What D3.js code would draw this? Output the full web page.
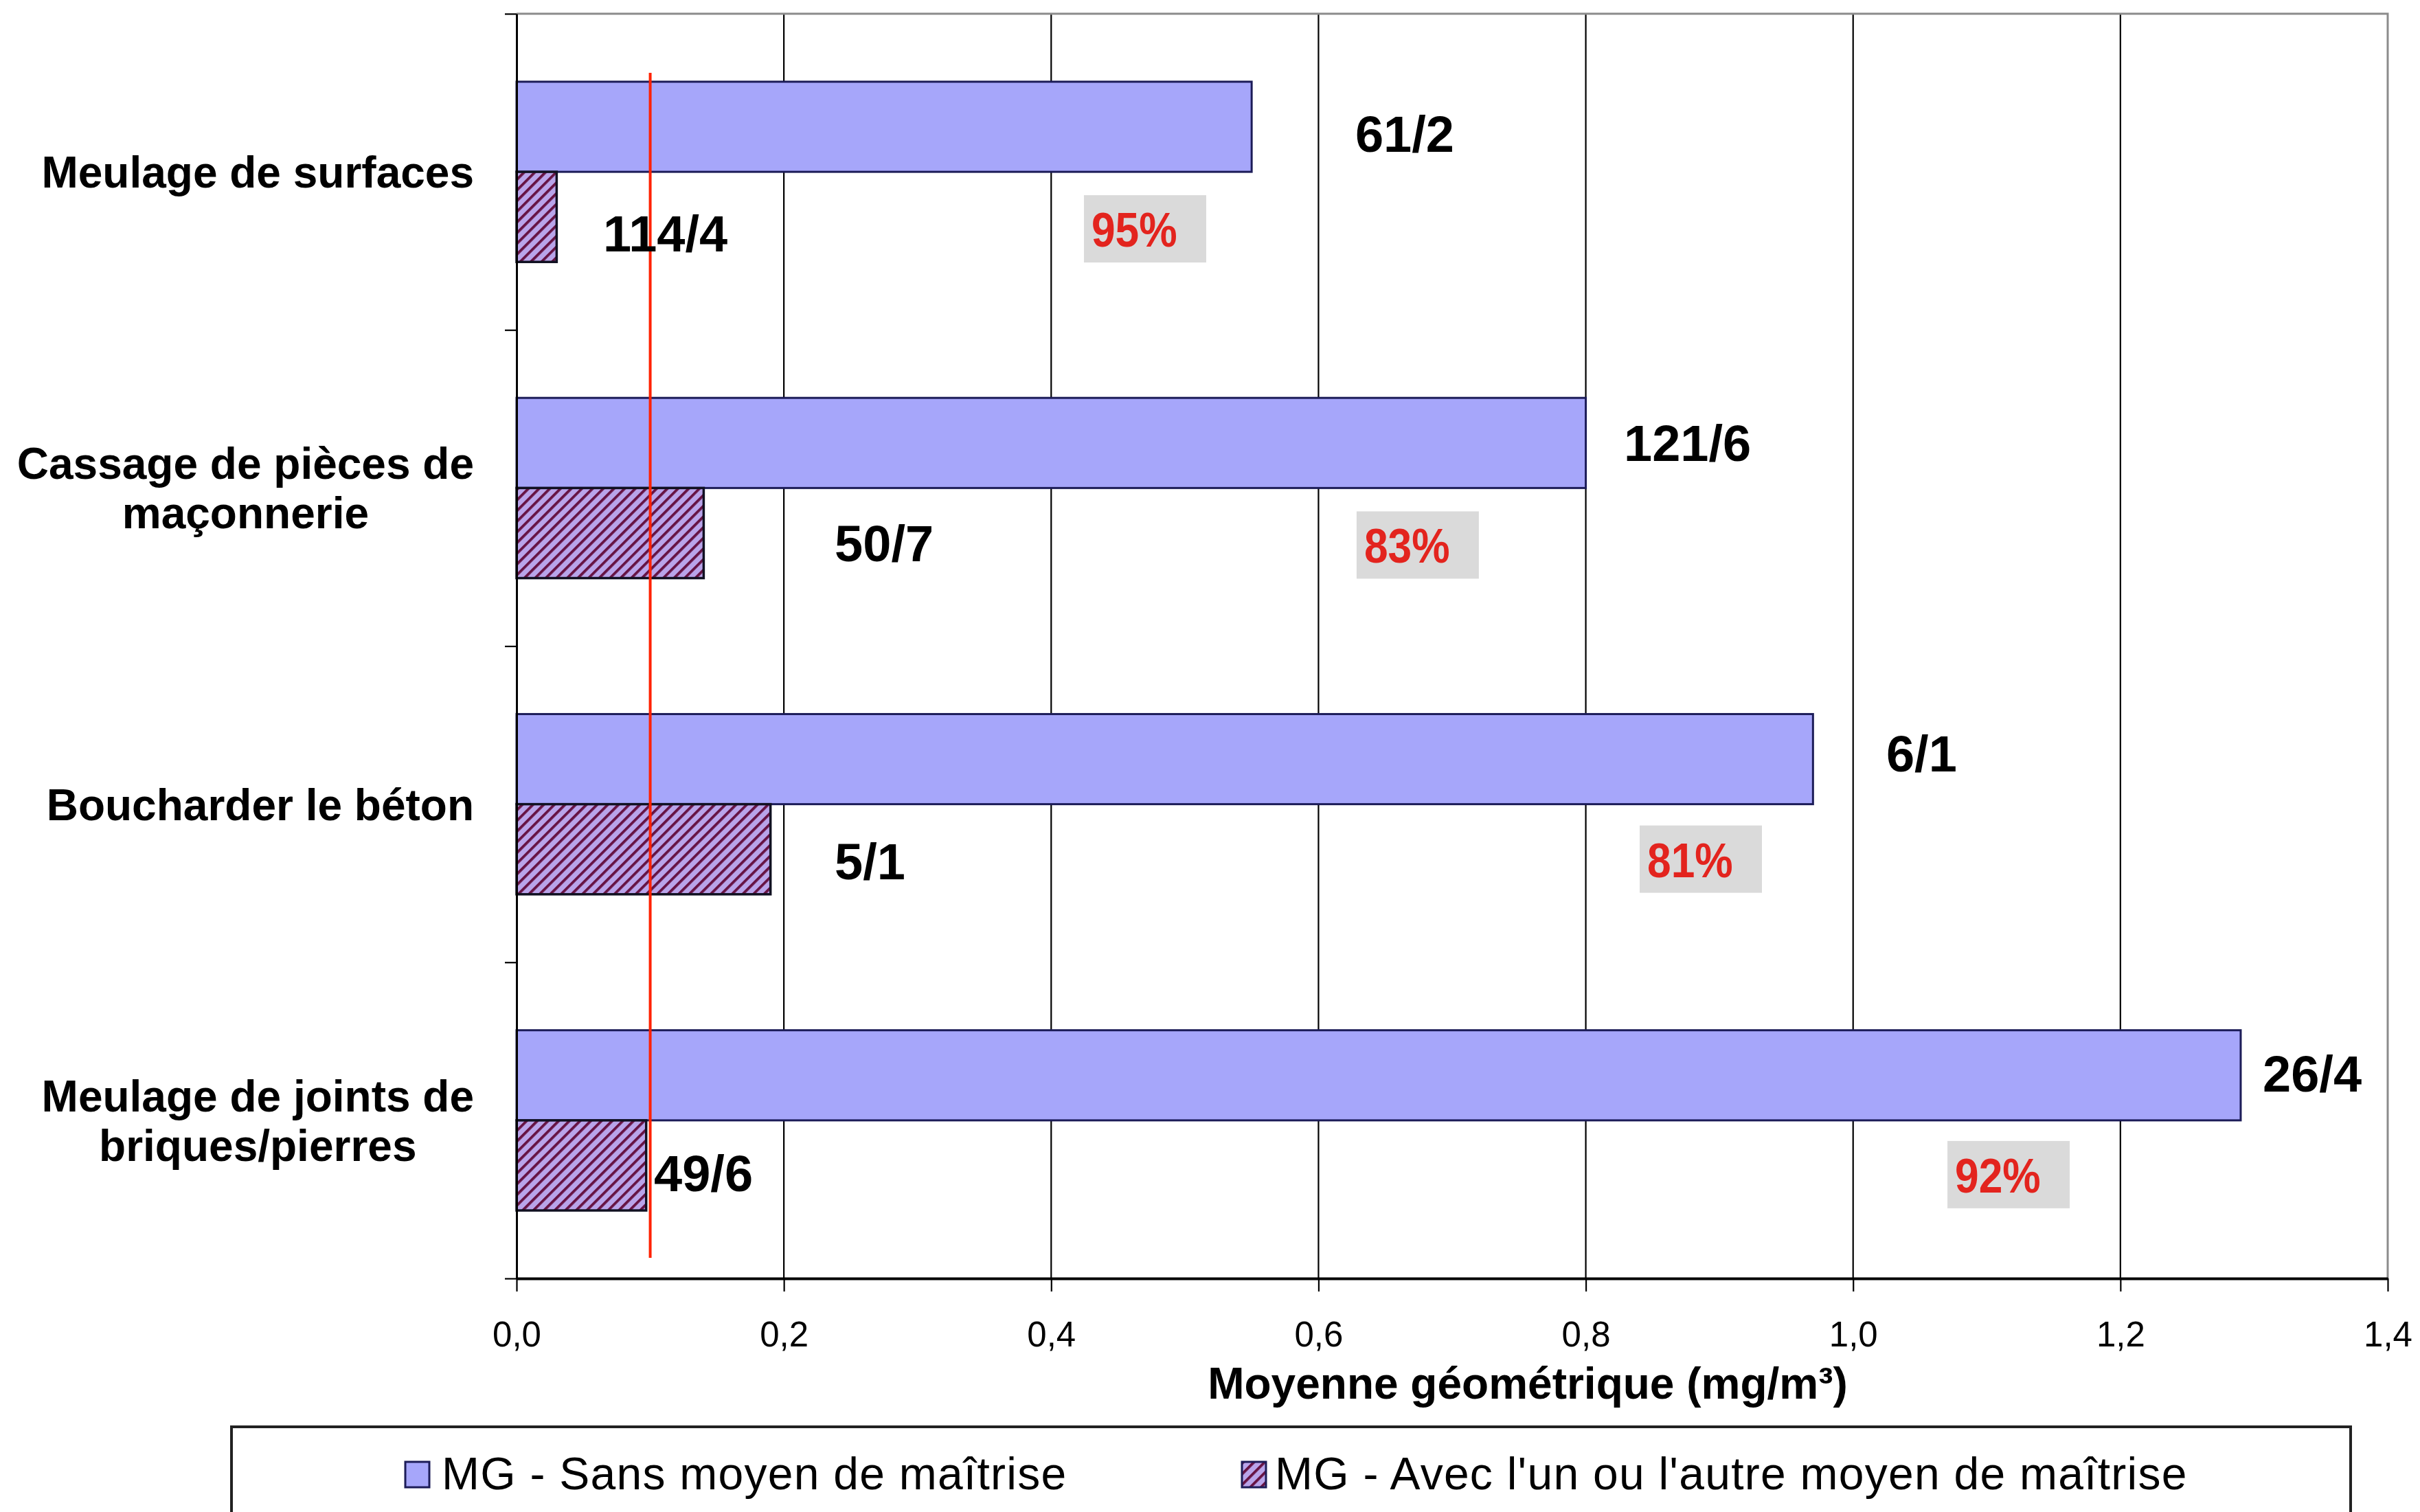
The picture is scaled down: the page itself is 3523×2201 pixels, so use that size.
<!DOCTYPE html>
<html>
<head>
<meta charset="utf-8">
<script src="https://cdn.jsdelivr.net/npm/d3@7"></script>
<style>
  html, body { margin: 0; padding: 0; background: #ffffff; }
  svg { display: block; }
  text { font-family: "Liberation Sans", Arial, Helvetica, sans-serif; }
</style>
</head>
<body>
<svg id="chart"></svg>
<script>
// ---- Data ----
const categories = [
  "Meulage de surfaces",
  "Cassage de pièces de\nmaçonnerie",
  "Boucharder le béton",
  "Meulage de joints de\nbriques/pierres"
];
const seriesNames = [
  "MG - Sans moyen de maîtrise",
  "MG - Avec l'un ou l'autre moyen de maîtrise"
];
// Geometric mean (mg/m³) without control measure
const sansValues = [0.55, 0.80, 0.97, 1.29];
// Geometric mean (mg/m³) with one control measure or the other
const avecValues = [0.03, 0.14, 0.19, 0.097];
// Sample counts shown next to each bar
const sansCounts = ["61/2", "121/6", "6/1", "26/4"];
const avecCounts = ["114/4", "50/7", "5/1", "49/6"];
// Reduction obtained with a control measure
const reductionLabels = ["95%", "83%", "81%", "92%"];
// Exposure limit value drawn as a vertical red line
const limitValue = 0.1;
const xTicks = [0, 0.2, 0.4, 0.6, 0.8, 1.0, 1.2, 1.4];
const xTitle = "Moyenne géométrique (mg/m³)";

// ---- Label placement (axis units for x, pixel offsets for y) ----
const sansCountPlace = [[0.6275, 10], [0.8285, 0], [1.0248, -8], [1.3065, -2]];
const avecCountPlace = [[0.0648, 24], [0.238, 15], [0.238, 18], [0.1028, 12]];
const reductionPlace = [[0.4245, 34], [0.6285, 34], [0.8403, 31], [1.0706, 30]];

// ---- Layout ----
const W = 3523, H = 2201;
const plot = { left: 752, right: 3476, top: 20, bottom: 1861 };

const svg = d3.select("#chart").attr("width", W).attr("height", H);
svg.append("rect").attr("width", W).attr("height", H).attr("fill", "#ffffff");

const defs = svg.append("defs");
const hatch = defs.append("pattern")
  .attr("id", "hatch")
  .attr("patternUnits", "userSpaceOnUse")
  .attr("width", 11).attr("height", 11)
  .attr("patternTransform", "rotate(45)");
hatch.append("rect").attr("width", 11).attr("height", 11).attr("fill", "#b9a4ea");
hatch.append("rect").attr("x", 0).attr("width", 3.8).attr("height", 11).attr("fill", "#661243");

const x = d3.scaleLinear().domain([0, 1.4]).range([plot.left, plot.right]);
const y = d3.scaleBand().domain(categories)
  .range([plot.top, plot.bottom])
  .paddingInner(0.43).paddingOuter(0.215);
const ySub = d3.scaleBand().domain(["sans", "avec"]).range([0, y.bandwidth()]);

// Vertical gridlines
svg.append("g").selectAll("line")
  .data(xTicks.filter(t => t > 0 && t < 1.4))
  .join("line")
  .attr("x1", d => x(d)).attr("x2", d => x(d))
  .attr("y1", plot.top).attr("y2", plot.bottom)
  .attr("stroke", "#000").attr("stroke-width", 2.2);

// Plot area frame (top and right)
svg.append("path")
  .attr("d", `M${plot.left},${plot.top}H${plot.right}V${plot.bottom}`)
  .attr("fill", "none").attr("stroke", "#8c8c8c").attr("stroke-width", 3);

// Bars without control measure
svg.append("g").selectAll("rect")
  .data(categories)
  .join("rect")
  .attr("x", x(0))
  .attr("y", d => y(d) + ySub("sans"))
  .attr("width", (d, i) => x(sansValues[i]) - x(0))
  .attr("height", ySub.bandwidth())
  .attr("fill", "#a6a6fa")
  .attr("stroke", "#1c1c58").attr("stroke-width", 3);

// Bars with a control measure (hatched)
svg.append("g").selectAll("rect")
  .data(categories)
  .join("rect")
  .attr("x", x(0))
  .attr("y", d => y(d) + ySub("avec"))
  .attr("width", (d, i) => x(avecValues[i]) - x(0))
  .attr("height", ySub.bandwidth())
  .attr("fill", "url(#hatch)")
  .attr("stroke", "#111122").attr("stroke-width", 3.5);

// Limit line
svg.append("line")
  .attr("x1", x(limitValue)).attr("x2", x(limitValue))
  .attr("y1", plot.top + 86).attr("y2", plot.bottom - 30)
  .attr("stroke", "#ff2200").attr("stroke-width", 4);

// X axis
const xAxis = svg.append("g")
  .attr("transform", `translate(0,${plot.bottom})`)
  .call(d3.axisBottom(x)
    .tickValues(xTicks)
    .tickSize(19).tickSizeOuter(0).tickPadding(44)
    .tickFormat(d => d3.format(".1f")(d).replace(".", ",")));
xAxis.select(".domain").attr("stroke", "#000").attr("stroke-width", 4);
xAxis.selectAll(".tick line").attr("stroke", "#000").attr("stroke-width", 2.2);
xAxis.selectAll(".tick text").attr("font-size", 51).attr("fill", "#000");

// Y axis: ticks at category boundaries
const yEdge = d3.scaleLinear().domain([0, categories.length]).range([plot.top, plot.bottom]);
const yAxis = svg.append("g")
  .attr("transform", `translate(${plot.left},0)`)
  .call(d3.axisLeft(yEdge)
    .tickValues(d3.range(categories.length + 1))
    .tickSize(17).tickSizeOuter(0).tickFormat(""));
yAxis.select(".domain").attr("stroke", "#000").attr("stroke-width", 3);
yAxis.selectAll(".tick line").attr("stroke", "#000").attr("stroke-width", 2.2);

// Category labels: block right-aligned, lines centred inside the block
const labelRight = 690, lineGap = 72;
categories.forEach(cat => {
  const lines = cat.split("\n");
  const cy = y(cat) + y.bandwidth() / 2;
  const g = svg.append("g");
  const texts = lines.map((ln, k) => g.append("text")
    .attr("font-size", 64).attr("font-weight", "bold").attr("fill", "#000")
    .attr("text-anchor", "middle")
    .attr("y", cy + 23 + (k - (lines.length - 1) / 2) * lineGap)
    .text(ln));
  const widest = d3.max(texts, t => t.node().getComputedTextLength());
  texts.forEach(t => t.attr("x", labelRight - widest / 2));
});

// Sample counts
const countFont = 74;
categories.forEach((cat, i) => {
  const cS = y(cat) + ySub("sans") + ySub.bandwidth() / 2;
  const cA = y(cat) + ySub("avec") + ySub.bandwidth() / 2;
  svg.append("text")
    .attr("x", x(sansCountPlace[i][0])).attr("y", cS + sansCountPlace[i][1] + 26)
    .attr("font-size", countFont).attr("font-weight", "bold").attr("fill", "#000")
    .text(sansCounts[i]);
  svg.append("text")
    .attr("x", x(avecCountPlace[i][0])).attr("y", cA + avecCountPlace[i][1] + 26)
    .attr("font-size", countFont).attr("font-weight", "bold").attr("fill", "#000")
    .text(avecCounts[i]);
});

// Reduction percentages in grey boxes
categories.forEach((cat, i) => {
  const cy = y(cat) + y.bandwidth() / 2;
  const bx = x(reductionPlace[i][0]);
  const by = cy + reductionPlace[i][1];
  svg.append("rect")
    .attr("x", bx).attr("y", by).attr("width", 178).attr("height", 98)
    .attr("fill", "#dadada");
  svg.append("g")
    .attr("transform", `translate(${bx + 11},${by + 75}) scale(0.89,1)`)
    .append("text")
    .attr("font-size", 70).attr("font-weight", "bold").attr("fill", "#e3241e")
    .text(reductionLabels[i]);
});

// Axis title
svg.append("text")
  .attr("x", 2224).attr("y", 2036)
  .attr("text-anchor", "middle")
  .attr("font-size", 64).attr("font-weight", "bold").attr("fill", "#000")
  .text(xTitle);

// Legend
svg.append("rect")
  .attr("x", 337).attr("y", 2077).attr("width", 3085).attr("height", 200)
  .attr("fill", "#fff").attr("stroke", "#222").attr("stroke-width", 4);
const legendItems = [
  { name: seriesNames[0], fill: "#a6a6fa", sx: 590, tx: 643 },
  { name: seriesNames[1], fill: "url(#hatch)", sx: 1808, tx: 1856 }
];
legendItems.forEach(it => {
  svg.append("rect")
    .attr("x", it.sx).attr("y", 2128).attr("width", 35).attr("height", 37)
    .attr("fill", it.fill).attr("stroke", "#1c1c58").attr("stroke-width", 3);
  svg.append("text")
    .attr("x", it.tx).attr("y", 2168)
    .attr("font-size", 66).attr("letter-spacing", 1.25).attr("fill", "#000")
    .text(it.name);
});
</script>
</body>
</html>
